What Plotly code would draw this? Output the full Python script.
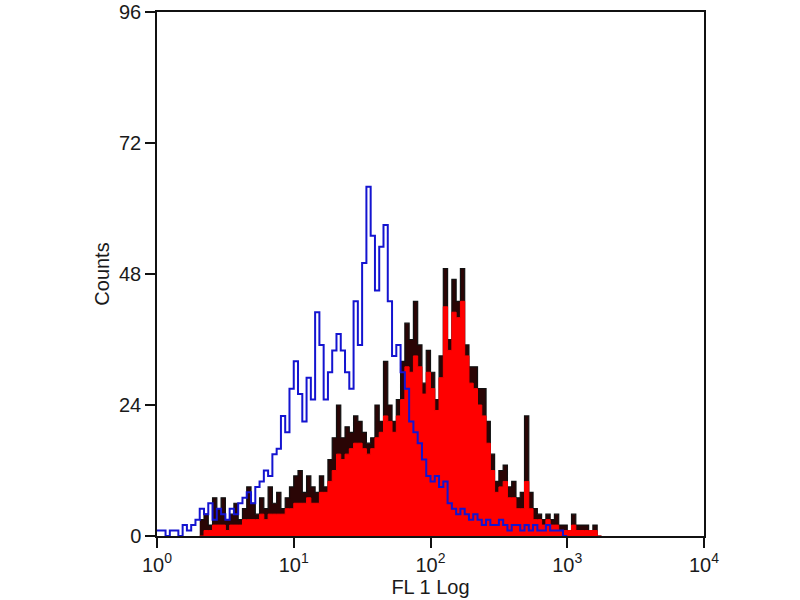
import plotly.graph_objects as go

# Histogram channels: 32 bins per decade, bin i spans 10^(i/32) .. 10^((i+1)/32)
bins_per_decade = 32

blue_start = 0
blue_counts = [1, 1, 0, 1, 1, 0, 2, 1, 2, 3, 5, 4, 6, 3, 5, 4, 3, 5, 4, 6,
               7, 8, 6, 9, 10, 12, 11, 15, 16, 22, 19, 27, 32, 26, 21, 29, 25, 41, 35, 25,
               30, 34, 37, 34, 30, 27, 43, 35, 50, 64, 55, 45, 53, 57, 43, 33, 35, 30, 27, 21,
               19, 17, 14, 11, 10, 11, 9, 10, 6, 5, 4, 5, 4, 3, 4, 3, 2, 3, 2, 2,
               3, 2, 1, 2, 2, 1, 2, 1, 2, 1, 1, 2, 1, 1, 1, 0]

black_start = 10
black_counts = [3, 4, 2, 7, 5, 7, 3, 4, 6, 3,
                5, 9, 6, 4, 7, 5, 9, 6, 8, 5, 7, 9, 11, 12, 8, 11, 9, 8, 11, 9,
                14, 18, 24, 18, 20, 19, 22, 21, 19, 17, 18, 24, 21, 32, 24, 21, 25, 32, 39, 36,
                43, 35, 28, 34, 30, 25, 33, 49, 36, 47, 43, 49, 35, 31, 31, 27, 27, 21, 15, 10,
                12, 13, 9, 10, 7, 8, 22, 8, 5, 4, 3, 4, 3, 4, 2, 2, 1, 4, 2, 2,
                2, 1, 2, 0]

red_start = 10
red_counts = [0, 1, 1, 2, 2, 2, 1, 2, 2, 2,
              3, 3, 3, 3, 4, 3, 4, 4, 4, 4, 5, 5, 6, 6, 6, 7, 6, 6, 8, 8,
              10, 12, 15, 14, 15, 16, 17, 17, 16, 15, 16, 18, 19, 22, 21, 19, 22, 25, 31, 30,
              33, 31, 26, 30, 27, 23, 29, 42, 34, 41, 40, 43, 33, 28, 27, 24, 22, 17, 12, 8,
              9, 10, 7, 7, 5, 5, 10, 5, 3, 3, 2, 3, 2, 2, 1, 1, 1, 2, 1, 1,
              1, 1, 1, 0]

x_tick_vals = [1, 10, 100, 1000, 10000]
x_tick_text = ["10<sup>0</sup>", "10<sup>1</sup>", "10<sup>2</sup>", "10<sup>3</sup>", "10<sup>4</sup>"]
y_tick_vals = [0, 24, 48, 72, 96]


def step_xy(start, counts):
    xs = [10 ** ((start + i) / bins_per_decade) for i in range(len(counts))]
    xs.append(10 ** ((start + len(counts)) / bins_per_decade))
    ys = list(counts) + [counts[-1]]
    return xs, ys


fig = go.Figure()

bx, by = step_xy(black_start, black_counts)
fig.add_trace(go.Scatter(x=bx, y=by, mode="lines", line=dict(shape="hv", color="#111111", width=1.2),
                         fill="tozeroy", fillcolor="#2a0505", hoverinfo="skip"))
rx, ry = step_xy(red_start, red_counts)
fig.add_trace(go.Scatter(x=rx, y=ry, mode="lines", line=dict(shape="hv", color="#ff0000", width=1),
                         fill="tozeroy", fillcolor="#ff0000", hoverinfo="skip"))
ux, uy = step_xy(blue_start, blue_counts)
fig.add_trace(go.Scatter(x=ux, y=uy, mode="lines", line=dict(shape="hv", color="#1414d0", width=2),
                         hoverinfo="skip"))

fig.update_layout(
    width=800, height=600,
    margin=dict(l=157, r=96, t=12, b=64, autoexpand=False),
    paper_bgcolor="white", plot_bgcolor="white",
    showlegend=False,
    font=dict(family="Liberation Sans, Arial, sans-serif", size=20, color="#1a1a1a"),
)
fig.update_xaxes(
    type="log", range=[0, 4], automargin=False,
    tickvals=x_tick_vals, ticktext=x_tick_text, tickfont=dict(size=20),
    ticks="outside", ticklen=10, tickwidth=1.5, tickcolor="#111111",
    showline=True, linecolor="#111111", linewidth=1.5, mirror=True,
    showgrid=False, zeroline=False,
    title=dict(text="FL 1 Log", standoff=2, font=dict(size=20)),
)
fig.update_yaxes(
    range=[0, 96], automargin=False,
    tickvals=y_tick_vals, tickfont=dict(size=20),
    ticks="outside", ticklen=10, tickwidth=1.5, tickcolor="#111111",
    showline=True, linecolor="#111111", linewidth=1.5, mirror=True,
    showgrid=False, zeroline=False,
    title=dict(text="Counts", standoff=4, font=dict(size=20)),
)

fig.write_html("out.html", config={"displayModeBar": False},
               post_script="document.body.style.margin='0';")
